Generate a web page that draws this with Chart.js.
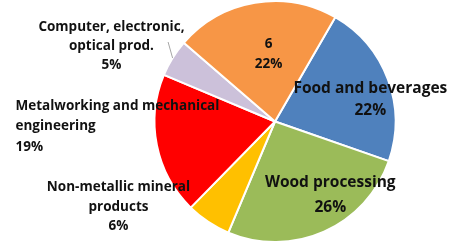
<!DOCTYPE html>
<html>
<head>
<meta charset="utf-8">
<script src="https://cdn.jsdelivr.net/npm/chart.js@4.4.0/dist/chart.umd.min.js"></script>
<style>
html, body { margin: 0; padding: 0; background: #fff; }
canvas { display: block; }
</style>
</head>
<body>
<canvas id="pieChart" width="450" height="243"></canvas>
<script>
// Data
const sectors = ['Food and beverages', 'Wood processing', 'Non-metallic mineral products',
  'Metalworking and mechanical engineering', 'Computer, electronic, optical prod.', '6'];
const shares = [22, 26, 6, 19, 5, 22];
const sliceColors = ['#4F81BD', '#9BBB59', '#FFC000', '#FF0000', '#CCC1DA', '#F79646'];

// how each category name is broken into lines
const labelLines = [
  ['Food and beverages'],
  ['Wood processing'],
  ['Non-metallic mineral', 'products'],
  ['Metalworking and mechanical', 'engineering'],
  ['Computer, electronic,', 'optical prod.'],
  ['6']
];

// label placement: fraction of radius along the slice middle, then a small nudge
const labelLayout = [
  { rf: 0.80, dx: 5, dy: 12, align: 'center', size: 15.5, lh: 22 },
  { rf: 0.73, dx: 19.5, dy: -7, align: 'center', size: 15.5, lh: 25 },
  { rf: 1.29, dx: -70.5, dy: -44, align: 'center', size: 13.5, lh: 19.5 },
  { rf: 2.07, dx: -15, dy: -44.5, align: 'left', size: 13.5, lh: 20.5 },
  { rf: 1.47, dx: -13, dy: 18, align: 'center', size: 13.5, lh: 19 , leader: true },
  { rf: 0.57, dx: 5, dy: 0, align: 'center', size: 13.5, lh: 20 }
];

const sliceLabels = {
  id: 'sliceLabels',
  afterDatasetsDraw(chart) {
    const ctx = chart.ctx;
    const meta = chart.getDatasetMeta(0);
    ctx.save();
    meta.data.forEach(function(arc, i) {
      const p = arc.getProps(['x', 'y', 'startAngle', 'endAngle', 'outerRadius']);
      const mid = (p.startAngle + p.endAngle) / 2;
      const L = labelLayout[i];
      const x = p.x + Math.cos(mid) * p.outerRadius * L.rf + L.dx;
      const y = p.y + Math.sin(mid) * p.outerRadius * L.rf + L.dy;

      if (L.leader) {
        const ex = p.x + Math.cos(mid) * p.outerRadius;
        const ey = p.y + Math.sin(mid) * p.outerRadius;
        ctx.strokeStyle = '#A6A6A6';
        ctx.lineWidth = 1;
        ctx.beginPath();
        ctx.moveTo(ex, ey);
        ctx.lineTo(ex - 4.5, ey - 16);
        ctx.stroke();
      }

      const lines = labelLines[i].concat([shares[i] + '%']);
      ctx.font = 'bold ' + L.size + 'px "Open Sans"';
      ctx.fillStyle = '#111111';
      ctx.textAlign = L.align;
      ctx.textBaseline = 'middle';
      const top = y - (lines.length - 1) * L.lh / 2;
      lines.forEach(function(t, k) {
        ctx.fillText(t, x, top + k * L.lh);
      });
    });
    ctx.restore();
  }
};

new Chart(document.getElementById('pieChart'), {
  type: 'pie',
  data: {
    labels: sectors,
    datasets: [{
      data: shares,
      backgroundColor: sliceColors,
      borderColor: '#FFFFFF',
      borderWidth: 2
    }]
  },
  options: {
    responsive: false,
    animation: false,
    devicePixelRatio: 1,
    rotation: 30,
    layout: { padding: { left: 149, right: 49, top: -3, bottom: -3 } },
    plugins: {
      legend: { display: false },
      tooltip: { enabled: false }
    }
  },
  plugins: [sliceLabels]
});
</script>
</body>
</html>
